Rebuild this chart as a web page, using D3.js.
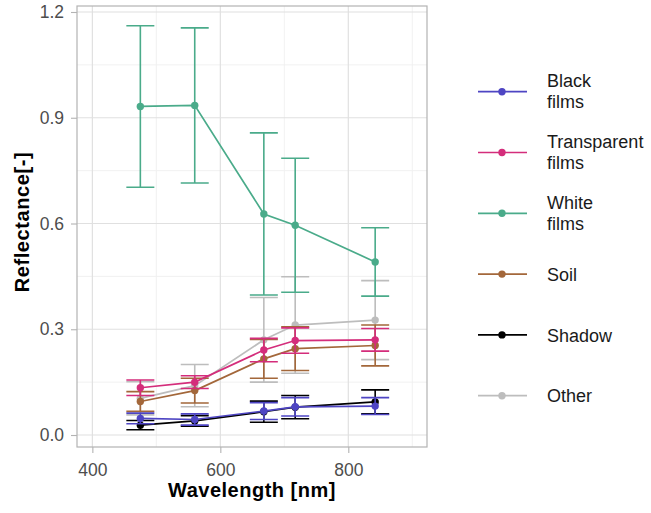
<!DOCTYPE html>
<html>
<head>
<meta charset="utf-8">
<script src="https://cdn.jsdelivr.net/npm/d3@7"></script>
<style>
  body { margin: 0; background: #fff; }
  text { font-family: "Liberation Sans", Arial, sans-serif; }
</style>
</head>
<body>
<svg id="chart"></svg>
<script>
// wavelengths of the bands (nm)
var wavelengths = [475, 560, 668, 717, 842];

var classNames = ["Black films", "Transparent films", "White films", "Soil", "Shadow", "Other"];
var classColors = ["#4e45c3", "#d42d7b", "#4aab8a", "#a3673a", "#000000", "#bdbdbd"];

// mean reflectance per class
var blackMean       = [0.047, 0.044, 0.068, 0.080, 0.082];
var transparentMean = [0.134, 0.150, 0.241, 0.268, 0.270];
var whiteMean       = [0.932, 0.935, 0.627, 0.595, 0.491];
var soilMean        = [0.095, 0.126, 0.216, 0.245, 0.254];
var shadowMean      = [0.028, 0.040, 0.066, 0.079, 0.094];
var otherMean       = [0.104, 0.140, 0.270, 0.312, 0.326];

// standard deviation per class
var blackSd       = [0.015, 0.016, 0.024, 0.026, 0.024];
var transparentSd = [0.022, 0.018, 0.033, 0.036, 0.032];
var whiteSd       = [0.229, 0.220, 0.230, 0.190, 0.097];
var soilSd        = [0.028, 0.035, 0.055, 0.062, 0.058];
var shadowSd      = [0.013, 0.015, 0.030, 0.033, 0.034];
var otherSd       = [0.047, 0.060, 0.120, 0.137, 0.112];

var xTicks = [400, 600, 800];
var yTicks = [0.0, 0.3, 0.6, 0.9, 1.2];

var means = [blackMean, transparentMean, whiteMean, soilMean, shadowMean, otherMean];
var sds = [blackSd, transparentSd, whiteSd, soilSd, shadowSd, otherSd];

var series = classNames.map(function(name, i) {
  return {
    name: name,
    color: classColors[i],
    values: wavelengths.map(function(w, j) {
      return { w: w, m: means[i][j], sd: sds[i][j] };
    })
  };
});

var screen = { width: 651, height: 513 };
var panel = { left: 77, right: 427, top: 6, bottom: 447 };

var svg = d3.select("#chart")
  .attr("width", screen.width)
  .attr("height", screen.height);

var xScale = d3.scaleLinear().domain([376, 923]).range([panel.left, panel.right]);
var yScale = d3.scaleLinear().domain([-0.034, 1.217]).range([panel.bottom, panel.top]);

// grid
var grid = svg.append("g");
[500, 700, 900].forEach(function(v) {
  grid.append("line")
    .attr("x1", xScale(v)).attr("x2", xScale(v))
    .attr("y1", panel.top).attr("y2", panel.bottom)
    .attr("stroke", "#efefef").attr("stroke-width", 0.9);
});
[0.15, 0.45, 0.75, 1.05].forEach(function(v) {
  grid.append("line")
    .attr("x1", panel.left).attr("x2", panel.right)
    .attr("y1", yScale(v)).attr("y2", yScale(v))
    .attr("stroke", "#efefef").attr("stroke-width", 0.9);
});
xTicks.forEach(function(v) {
  grid.append("line")
    .attr("x1", xScale(v)).attr("x2", xScale(v))
    .attr("y1", panel.top).attr("y2", panel.bottom)
    .attr("stroke", "#e0e0e0").attr("stroke-width", 1.2);
});
yTicks.forEach(function(v) {
  grid.append("line")
    .attr("x1", panel.left).attr("x2", panel.right)
    .attr("y1", yScale(v)).attr("y2", yScale(v))
    .attr("stroke", "#e0e0e0").attr("stroke-width", 1.2);
});

// axes
var xAxis = d3.axisBottom(xScale).tickValues(xTicks).tickSize(6).tickPadding(11).tickFormat(d3.format("d"));
var yAxis = d3.axisLeft(yScale).tickValues(yTicks).tickSize(6).tickPadding(7).tickFormat(d3.format(".1f"));

var xAxisGraphic = svg.append("g")
  .attr("transform", "translate(0," + panel.bottom + ")")
  .call(xAxis);
var yAxisGraphic = svg.append("g")
  .attr("transform", "translate(" + panel.left + ",0)")
  .call(yAxis);

[xAxisGraphic, yAxisGraphic].forEach(function(g) {
  g.select(".domain").remove();
  g.selectAll(".tick line").attr("stroke", "#b3b3b3").attr("stroke-width", 1.1);
  g.selectAll(".tick text").attr("fill", "#4d4d4d")
    .style("font-size", "17.5px")
    .style("font-family", "'Liberation Sans', Arial, sans-serif");
});

// data layers, first class on top
var capHalf = 14;
var layer = svg.append("g");

series.slice().reverse().forEach(function(s) {
  var g = layer.append("g");
  g.selectAll(".err")
    .data(s.values)
    .enter()
    .append("path")
    .attr("d", function(d) {
      var x = xScale(d.w), y1 = yScale(d.m + d.sd), y0 = yScale(d.m - d.sd);
      return "M" + (x - capHalf) + "," + y1 + "H" + (x + capHalf) +
             "M" + x + "," + y1 + "V" + y0 +
             "M" + (x - capHalf) + "," + y0 + "H" + (x + capHalf);
    })
    .attr("fill", "none")
    .attr("stroke", s.color)
    .attr("stroke-width", 1.6);

  var line = d3.line()
    .x(function(d) { return xScale(d.w); })
    .y(function(d) { return yScale(d.m); });

  g.append("path")
    .datum(s.values)
    .attr("d", line)
    .attr("fill", "none")
    .attr("stroke", s.color)
    .attr("stroke-width", 1.7);

  g.selectAll("circle")
    .data(s.values)
    .enter()
    .append("circle")
    .attr("cx", function(d) { return xScale(d.w); })
    .attr("cy", function(d) { return yScale(d.m); })
    .attr("r", 3.7)
    .attr("fill", s.color);
});

// panel border
svg.append("rect")
  .attr("x", panel.left).attr("y", panel.top)
  .attr("width", panel.right - panel.left)
  .attr("height", panel.bottom - panel.top)
  .attr("fill", "none")
  .attr("stroke", "#b3b3b3")
  .attr("stroke-width", 1.2);

// axis titles
svg.append("text")
  .attr("x", (panel.left + panel.right) / 2)
  .attr("y", 497)
  .attr("text-anchor", "middle")
  .style("font-size", "20px")
  .style("letter-spacing", "0.5px")
  .style("font-weight", "bold")
  .text("Wavelength [nm]");

svg.append("text")
  .attr("transform", "translate(29," + 222 + ") rotate(-90)")
  .attr("text-anchor", "middle")
  .style("font-size", "20px")
  .style("letter-spacing", "0.6px")
  .style("font-weight", "bold")
  .text("Reflectance[-]");

// legend
var legend = svg.append("g");
series.forEach(function(s, i) {
  var ky = 91.7 + i * 60.8;
  legend.append("line")
    .attr("x1", 478).attr("x2", 527)
    .attr("y1", ky).attr("y2", ky)
    .attr("stroke", s.color).attr("stroke-width", 1.7);
  legend.append("circle")
    .attr("cx", 502).attr("cy", ky).attr("r", 3.7)
    .attr("fill", s.color);
  var words = s.name.split(" ");
  var t = legend.append("text")
    .attr("x", 547)
    .style("font-size", "18px")
    .attr("fill", "#1a1a1a");
  if (words.length > 1) {
    t.append("tspan").attr("x", 547).attr("y", ky - 4.3).text(words[0]);
    t.append("tspan").attr("x", 547).attr("y", ky + 16.5).text(words[1]);
  } else {
    t.attr("y", ky + 6.7).text(s.name);
  }
});
</script>
</body>
</html>
